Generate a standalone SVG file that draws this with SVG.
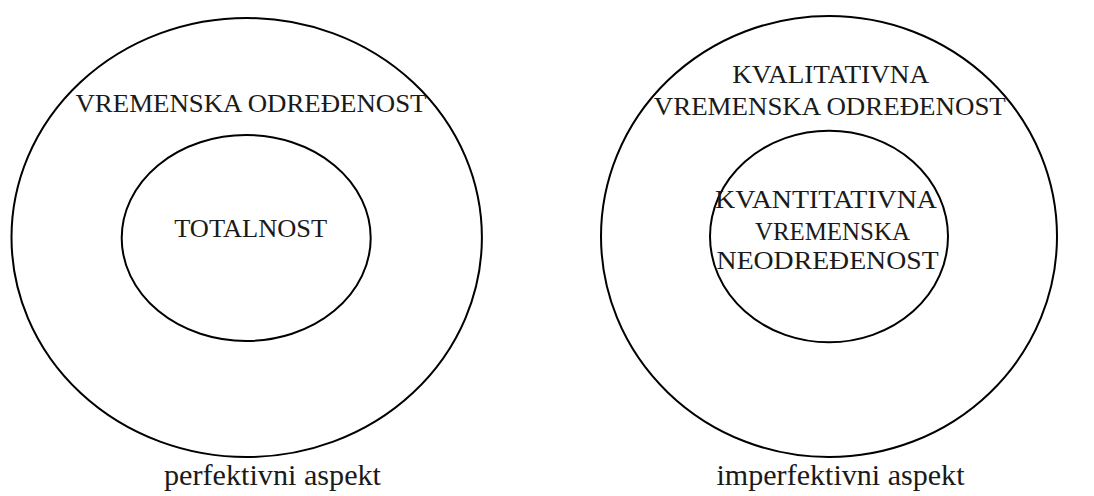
<svg xmlns="http://www.w3.org/2000/svg" width="1094" height="496" viewBox="0 0 1094 496">
<style>
.ring{fill:none;stroke:#000;stroke-width:2}
.cap{font-family:"Liberation Serif","DejaVu Serif",serif;font-size:26px;fill:#1a1a1a;text-anchor:middle}
.lab{font-family:"Liberation Serif","DejaVu Serif",serif;font-size:30px;fill:#1a1a1a;text-anchor:middle}
</style>
<rect width="1094" height="496" fill="#fff"/>
<g id="perfective">
<g id="perf-outer">
<ellipse class="ring" cx="246.7" cy="237.5" rx="235.2" ry="219.5"/>
<text class="cap" x="251" y="111.5" textLength="351" lengthAdjust="spacingAndGlyphs">VREMENSKA ODREĐENOST</text>
</g>
<g id="perf-inner">
<ellipse class="ring" cx="246.2" cy="238" rx="124.5" ry="103"/>
<text class="cap" x="250.7" y="236.7" textLength="153" lengthAdjust="spacingAndGlyphs">TOTALNOST</text>
</g>
<text id="perf-label" class="lab" x="272.5" y="485" textLength="217" lengthAdjust="spacingAndGlyphs">perfektivni aspekt</text>
</g>
<g id="imperfective">
<g id="imp-outer">
<ellipse class="ring" cx="829" cy="236.5" rx="228" ry="220.5"/>
<text class="cap" x="830.7" y="83.3" textLength="197" lengthAdjust="spacingAndGlyphs">KVALITATIVNA</text>
<text class="cap" x="829.8" y="115" textLength="352" lengthAdjust="spacingAndGlyphs">VREMENSKA ODREĐENOST</text>
</g>
<g id="imp-inner">
<ellipse class="ring" cx="829" cy="236.5" rx="119" ry="105.8"/>
<text class="cap" x="826" y="208.3" textLength="222" lengthAdjust="spacingAndGlyphs">KVANTITATIVNA</text>
<text class="cap" x="832.4" y="239.5" textLength="155" lengthAdjust="spacingAndGlyphs">VREMENSKA</text>
<text class="cap" x="827.6" y="268.5" textLength="222" lengthAdjust="spacingAndGlyphs">NEODREĐENOST</text>
</g>
<text id="imp-label" class="lab" x="840.5" y="485" textLength="248" lengthAdjust="spacingAndGlyphs">imperfektivni aspekt</text>
</g>
<g id="connectors"></g>
</svg>
